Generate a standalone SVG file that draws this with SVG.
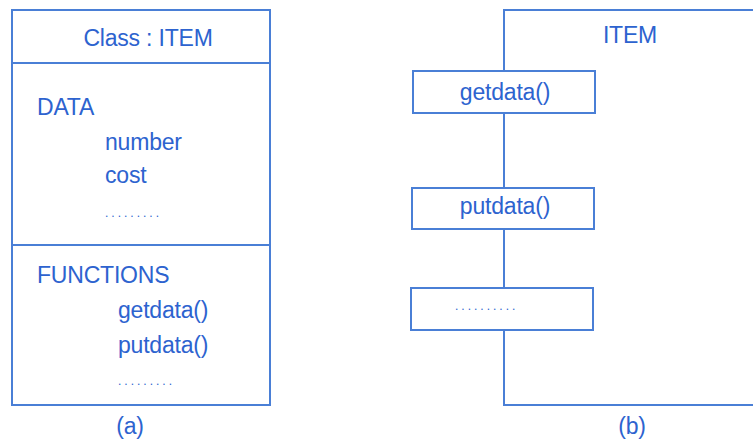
<svg xmlns="http://www.w3.org/2000/svg" width="753" height="446" viewBox="0 0 753 446">
<style>
.ln{fill:none;stroke:#4a7fd6;stroke-width:2}
.t{font-family:"Liberation Sans",Arial,sans-serif;font-size:23px;fill:#2d63cf;letter-spacing:-0.2px}
.d{font-family:"Liberation Sans",Arial,sans-serif;font-size:12px;fill:#2d63cf;letter-spacing:3px}
.c{text-anchor:middle}
.w{fill:#ffffff}
</style>
<rect width="753" height="446" fill="#ffffff"/>
<g id="class-a">
<rect class="ln" x="12" y="10" width="258" height="395"/>
<line class="ln" x1="12" y1="63" x2="270" y2="63"/>
<line class="ln" x1="12" y1="245" x2="270" y2="245"/>
<text class="t c" x="148" y="46">Class : ITEM</text>
<text class="t" x="37" y="115">DATA</text>
<text class="t" x="105" y="150">number</text>
<text class="t" x="105" y="183">cost</text>
<text class="d" x="105" y="217">.........</text>
<text class="t" x="37" y="283">FUNCTIONS</text>
<text class="t" x="118" y="318">getdata()</text>
<text class="t" x="118" y="353">putdata()</text>
<text class="d" x="118" y="385">.........</text>
<text class="t c" x="130" y="434">(a)</text>
</g>
<g id="connectors">
<polyline class="ln" points="753,10 504,10 504,405 753,405"/>
</g>
<g id="item-b">
<text class="t c" x="630" y="43">ITEM</text>
</g>
<g id="getdata">
<rect class="ln" x="413" y="71" width="182" height="42" style="fill:#fff"/>
<text class="t c" x="505" y="100">getdata()</text>
</g>
<g id="putdata">
<rect class="ln" x="412" y="188" width="182" height="41" style="fill:#fff"/>
<text class="t c" x="505" y="214">putdata()</text>
</g>
<g id="more">
<rect class="ln" x="411" y="288" width="182" height="42" style="fill:#fff"/>
<text class="d" x="455" y="310">..........</text>
</g>
<text class="t c" x="632" y="434">(b)</text>
</svg>
